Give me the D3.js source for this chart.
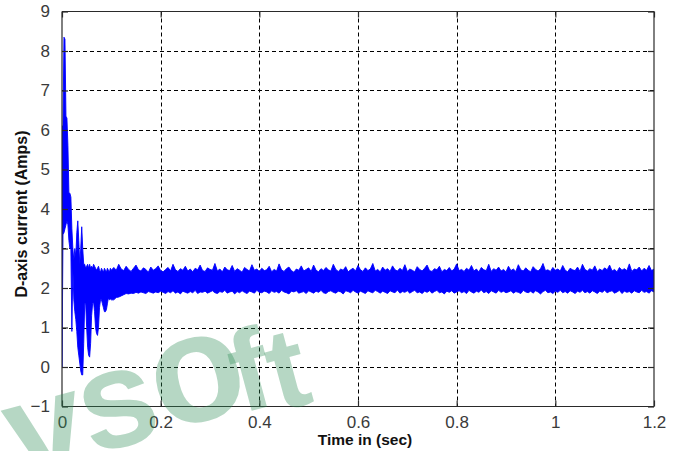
<!DOCTYPE html>
<html><head><meta charset="utf-8">
<script src="https://cdn.jsdelivr.net/npm/d3@7"></script>
<style>html,body{margin:0;padding:0;background:#fff;}svg{display:block;}</style>
</head><body>
<svg id="chart" width="680" height="451"></svg>
<script>
// ---- data ----
const xTicks = [0, 0.2, 0.4, 0.6, 0.8, 1, 1.2];
const yTicks = [-1, 0, 1, 2, 3, 4, 5, 6, 7, 8, 9];
const xLabel = "Time in (sec)";
const yLabel = "D-axis current (Amps)";

// transient part, sampled every 0.002 s: upper / lower envelope
const tTrans = [0,0.002,0.004,0.006,0.008,0.010,0.012,0.014,0.016,0.018,0.020,0.022,0.024,0.026,0.028,0.030,0.032,0.034,0.036,0.038,0.040,0.042,0.044,0.046,0.048,0.050,0.052,0.054,0.056,0.058,0.060,0.062,0.064,0.066,0.068,0.070,0.072,0.074,0.076,0.078,0.080,0.082,0.084,0.086,0.088,0.090,0.092,0.094,0.096,0.098,0.100];
const hiTrans = [6.1,6.1,8.35,8.3,6.35,6.3,5.6,4.4,4.4,4.3,3.5,3.0,2.7,3.0,2.8,3.4,3.7,3.2,2.6,3.0,3.55,3.0,2.6,2.6,2.5,2.55,2.6,2.5,2.6,2.5,2.55,2.5,2.6,2.55,2.5,2.45,2.5,2.55,2.45,2.4,2.5,2.45,2.4,2.5,2.45,2.4,2.5,2.45,2.4,2.5,2.45];
const loTrans = [0,3.35,3.4,3.5,3.6,3.7,3.6,3.2,3.0,3.0,0.9,2.5,1.7,1.4,1.2,0.9,0.5,0.3,0.1,-0.1,-0.2,-0.2,0.6,1.6,1.6,1.0,0.5,0.3,0.25,0.6,1.3,1.6,1.65,1.4,1.0,0.85,0.8,1.0,1.5,1.7,1.7,1.6,1.5,1.4,1.4,1.45,1.6,1.75,1.7,1.72,1.7];

// steady-state part, sampled every 0.005 s from 0.105 s to 1.2 s
const steadyStart = 0.105, steadyStep = 0.005;
const hiSteady = [
2.52,2.45,2.60,2.48,2.44,2.55,2.47,2.42,2.50,2.58,2.46,2.43,2.51,2.47,2.40,2.53,2.45,2.49,2.56,2.44,
2.41,2.47,2.52,2.43,2.60,2.46,2.42,2.49,2.45,2.55,2.43,2.48,2.41,2.50,2.46,2.58,2.44,2.42,2.51,2.47,
2.45,2.62,2.43,2.48,2.41,2.53,2.46,2.44,2.57,2.42,2.49,2.45,2.40,2.52,2.47,2.43,2.59,2.45,2.48,2.42,
2.50,2.44,2.46,2.55,2.41,2.47,2.43,2.61,2.46,2.42,2.49,2.53,2.44,2.40,2.48,2.45,2.56,2.43,2.47,2.51,
2.42,2.58,2.45,2.41,2.49,2.44,2.52,2.46,2.43,2.60,2.47,2.42,2.48,2.45,2.54,2.41,2.46,2.50,2.43,2.57,
2.46,2.42,2.51,2.44,2.48,2.62,2.43,2.47,2.41,2.53,2.45,2.49,2.42,2.56,2.46,2.43,2.50,2.44,2.59,2.42,
2.48,2.45,2.41,2.54,2.47,2.43,2.50,2.58,2.44,2.42,2.49,2.46,2.55,2.41,2.47,2.44,2.52,2.43,2.48,2.61,
2.44,2.47,2.42,2.50,2.45,2.57,2.43,2.48,2.41,2.52,2.46,2.44,2.60,2.42,2.49,2.45,2.53,2.43,2.47,2.41,
2.55,2.44,2.48,2.42,2.59,2.46,2.43,2.51,2.45,2.41,2.54,2.47,2.43,2.49,2.62,2.44,2.46,2.42,2.52,2.45,
2.48,2.43,2.57,2.45,2.41,2.50,2.46,2.44,2.53,2.42,2.60,2.47,2.43,2.49,2.45,2.56,2.42,2.48,2.44,2.51,
2.46,2.58,2.43,2.47,2.41,2.52,2.45,2.49,2.44,2.61,2.42,2.48,2.46,2.53,2.43,2.50,2.45,2.57,2.44,2.48];
const loSteady = [
1.70,1.76,1.77,1.80,1.83,1.86,1.85,1.87,1.86,1.89,1.87,1.90,1.88,1.86,1.91,1.89,1.87,1.90,1.88,1.92,
1.89,1.86,1.91,1.88,1.93,1.87,1.90,1.85,1.92,1.89,1.87,1.91,1.88,1.94,1.86,1.90,1.89,1.92,1.87,1.90,
1.93,1.88,1.86,1.91,1.89,1.94,1.87,1.90,1.92,1.85,1.91,1.88,1.93,1.89,1.86,1.92,1.90,1.87,1.94,1.89,
1.88,1.92,1.90,1.86,1.93,1.89,1.91,1.87,1.94,1.90,1.88,1.85,1.92,1.90,1.93,1.87,1.89,1.91,1.86,1.93,
1.90,1.87,1.92,1.89,1.94,1.88,1.86,1.91,1.93,1.89,1.87,1.92,1.90,1.85,1.93,1.91,1.88,1.94,1.90,1.87,
1.92,1.89,1.86,1.93,1.90,1.88,1.94,1.91,1.87,1.92,1.89,1.86,1.93,1.90,1.88,1.95,1.87,1.91,1.89,1.93,
1.87,1.91,1.94,1.88,1.90,1.86,1.92,1.89,1.93,1.87,1.91,1.94,1.88,1.90,1.85,1.92,1.89,1.93,1.87,1.90,
1.93,1.88,1.91,1.86,1.94,1.90,1.87,1.92,1.89,1.95,1.88,1.91,1.86,1.93,1.90,1.87,1.94,1.89,1.92,1.88,
1.90,1.93,1.87,1.91,1.89,1.86,1.94,1.90,1.88,1.92,1.87,1.93,1.90,1.85,1.91,1.94,1.88,1.90,1.86,1.92,
1.89,1.94,1.88,1.91,1.87,1.93,1.90,1.86,1.92,1.89,1.94,1.88,1.91,1.87,1.93,1.90,1.86,1.92,1.89,1.94,
1.88,1.91,1.93,1.87,1.90,1.94,1.86,1.92,1.89,1.91,1.87,1.93,1.90,1.88,1.94,1.89,1.91,1.87,1.93,1.90];
const watermarkLetters = ["v", "s", "o", "f", "t"];

// ---- build series ----
const series = [];
tTrans.forEach((t, i) => series.push({t, hi: hiTrans[i], lo: loTrans[i]}));
hiSteady.forEach((h, i) => series.push({t: steadyStart + i * steadyStep, hi: h, lo: loSteady[i]}));

// ---- layout ----
const svg = d3.select("#chart");
const L = 62, R = 654, T = 11.5, B = 406.5;
const x = d3.scaleLinear().domain([0, 1.2]).range([L, R]);
const y = d3.scaleLinear().domain([-1, 9]).range([B, T]);

const FONT = "'Liberation Sans', Arial, sans-serif";

// grid
const grid = svg.append("g");
grid.selectAll("line.gx").data(xTicks.filter(d => d > 0 && d < 1.2)).join("line")
  .attr("x1", d => Math.round(x(d)) + 0.5).attr("x2", d => Math.round(x(d)) + 0.5)
  .attr("y1", T).attr("y2", B)
  .attr("stroke", "#000").attr("stroke-width", 1).attr("stroke-dasharray", "4,3");
grid.selectAll("line.gy").data(yTicks.filter(d => d > -1 && d < 9)).join("line")
  .attr("y1", d => Math.round(y(d)) + 0.5).attr("y2", d => Math.round(y(d)) + 0.5)
  .attr("x1", L).attr("x2", R)
  .attr("stroke", "#000").attr("stroke-width", 1).attr("stroke-dasharray", "4,3");

// data
svg.append("clipPath").attr("id", "clip").append("rect")
  .attr("x", L).attr("y", T).attr("width", R - L).attr("height", B - T);
const area = d3.area().x(d => x(d.t)).y0(d => y(d.lo)).y1(d => y(d.hi)).curve(d3.curveLinear);
svg.append("path").datum(series).attr("clip-path", "url(#clip)")
  .attr("d", area).attr("fill", "#0000ff").attr("stroke", "#0000ff").attr("stroke-width", 0.9);

// axes (MATLAB-style box with inward ticks)
const axBottom = d3.axisBottom(x).tickValues(xTicks).tickSize(-6).tickPadding(9)
  .tickFormat(d => d3.format("~g")(d));
const axTop = d3.axisTop(x).tickValues(xTicks).tickSize(-6).tickFormat("");
const axLeft = d3.axisLeft(y).tickValues(yTicks).tickSize(-6).tickPadding(12)
  .tickFormat(d => d3.format("~g")(d));
const axRight = d3.axisRight(y).tickValues(yTicks).tickSize(-6).tickFormat("");

function style(g) {
  g.select(".domain").attr("stroke", "#2a2a2a").attr("stroke-width", 1.2);
  g.selectAll(".tick line").attr("stroke", "#2a2a2a").attr("stroke-width", 1.2);
  g.selectAll(".tick text").attr("fill", "#3a3a3a").attr("font-family", FONT).attr("font-size", 17);
}
svg.append("g").attr("transform", `translate(0,${B})`).call(axBottom).call(style)
  .call(g => g.select(".domain").attr("d", `M${L},0H${R}`));
svg.append("g").attr("transform", `translate(0,${T})`).call(axTop).call(style)
  .call(g => g.select(".domain").attr("d", `M${L},0H${R}`));
svg.append("g").attr("transform", `translate(${L},0)`).call(axLeft).call(style)
  .call(g => g.select(".domain").attr("d", `M0,${B}V${T}`));
svg.append("g").attr("transform", `translate(${R},0)`).call(axRight).call(style)
  .call(g => g.select(".domain").attr("d", `M0,${B}V${T}`));

// axis titles
svg.append("text").attr("x", 365).attr("y", 445).attr("text-anchor", "middle")
  .attr("font-family", FONT).attr("font-weight", "bold").attr("font-size", 15.5).attr("fill", "#111")
  .text(xLabel);
svg.append("text").attr("transform", "translate(27,214) rotate(-90)").attr("text-anchor", "middle")
  .attr("font-family", FONT).attr("font-weight", "bold").attr("font-size", 16).attr("fill", "#111")
  .text(yLabel);

// watermark
const wm = svg.append("text").attr("transform", "translate(14,463) rotate(-15)")
  .attr("font-family", FONT).attr("font-weight", "bold").attr("font-size", 140)
  .attr("letter-spacing", -2)
  .attr("fill", "#2e8b57").attr("fill-opacity", 0.35);
const wmShift = [20, -8, -4, 3, 8];
const wmDx = [0, 0, 0, -12, 0];
const wmSize = [140, 140, 155, 115, 115];
watermarkLetters.forEach((ch, i) => {
  wm.append("tspan").attr("dy", wmShift[i]).attr("dx", wmDx[i]).attr("font-size", wmSize[i]).text(ch);
});
</script>
</body></html>
